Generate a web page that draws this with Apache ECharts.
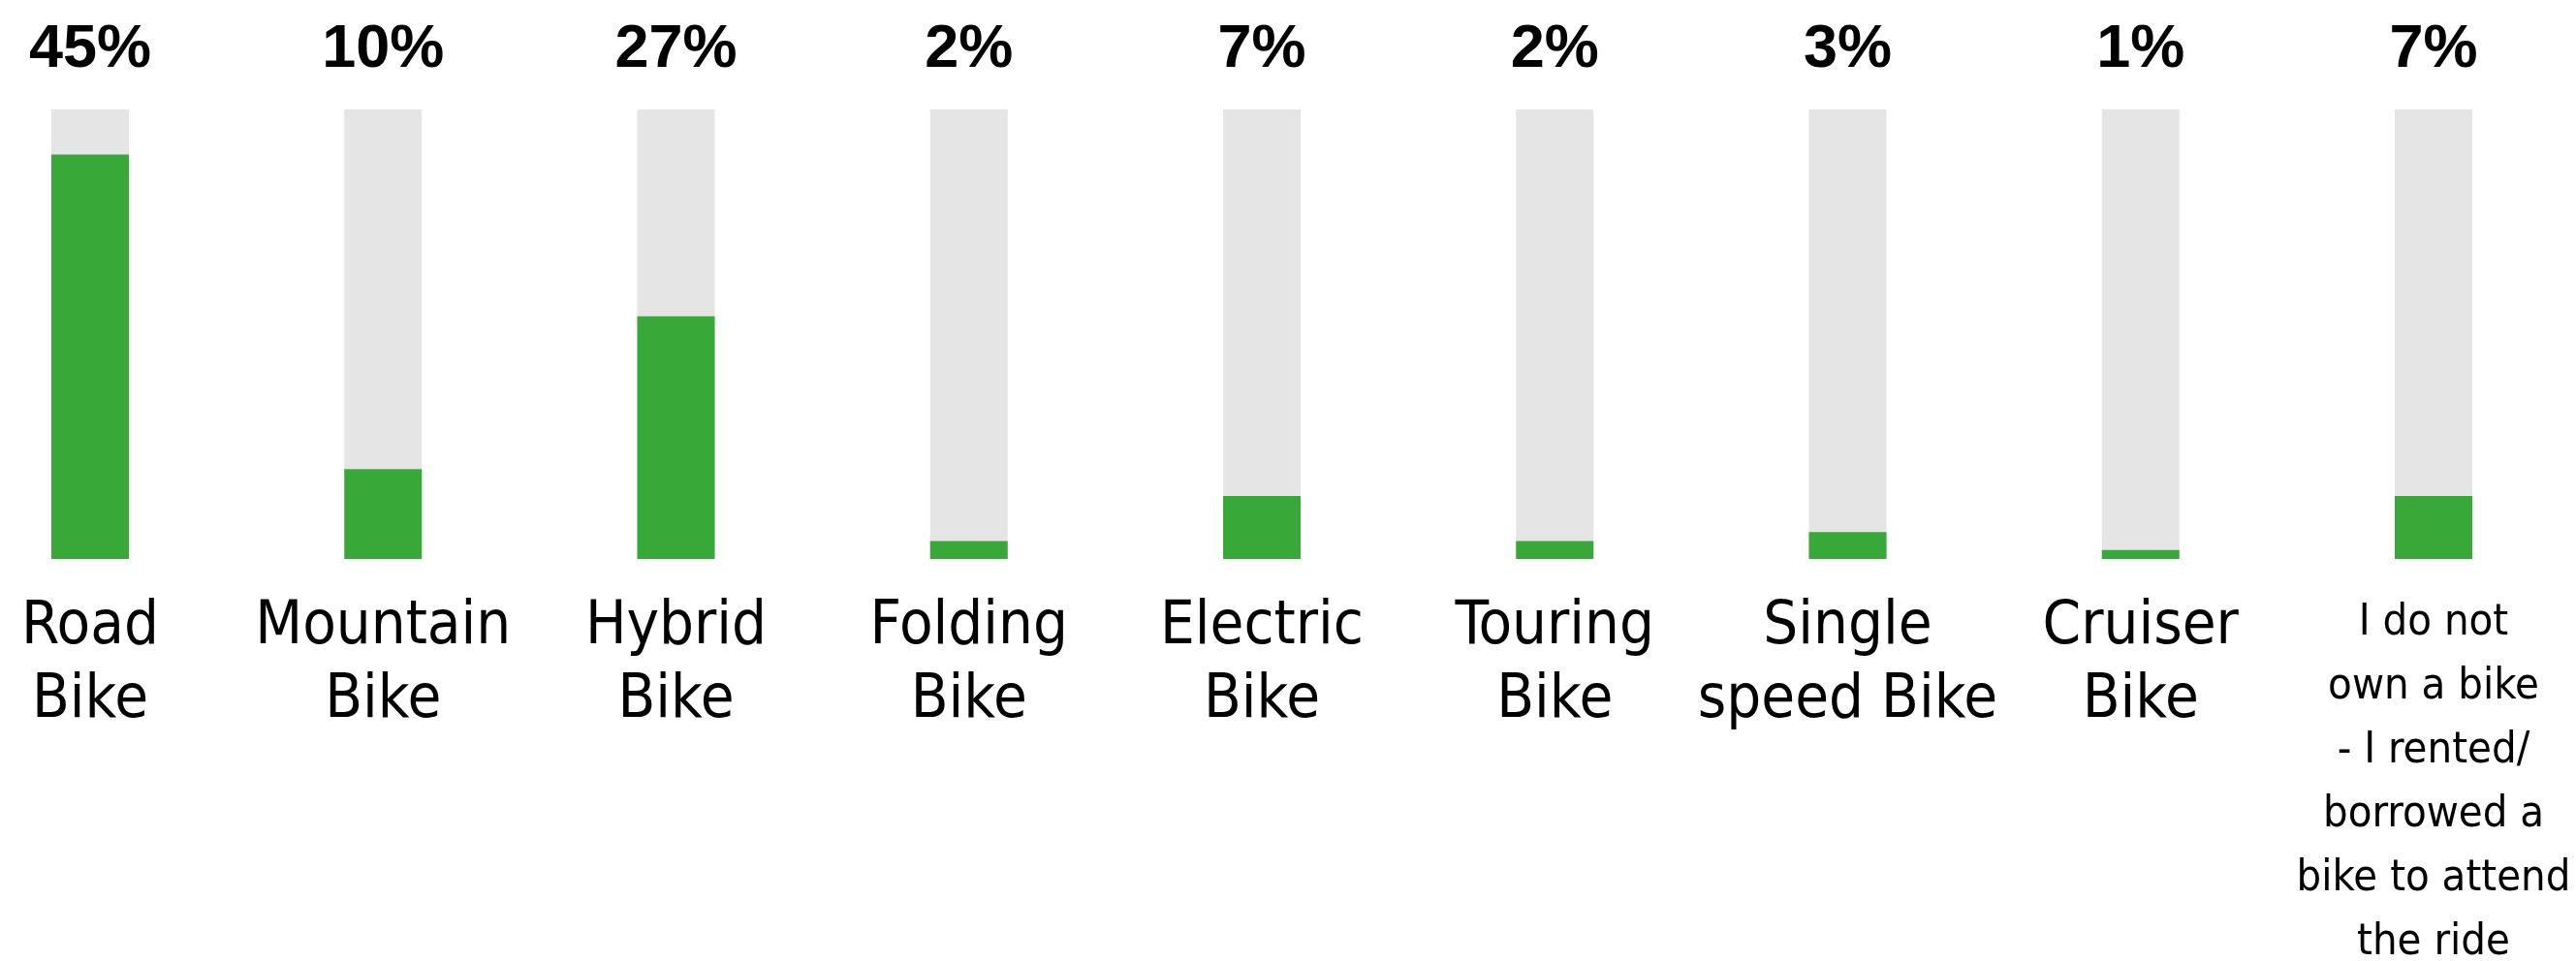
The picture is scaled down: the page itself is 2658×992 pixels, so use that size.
<!DOCTYPE html>
<html>
<head>
<meta charset="utf-8">
<script src="https://cdn.jsdelivr.net/npm/echarts@6/dist/echarts.min.js"></script>
<style>
  html, body { margin: 0; padding: 0; background: #fff; }
  #chart { width: 2658px; height: 992px; }
</style>
</head>
<body>
<div id="chart"></div>
<script>
// bike types (axis labels)
var categories = [
  'Road\nBike',
  'Mountain\nBike',
  'Hybrid\nBike',
  'Folding\nBike',
  'Electric\nBike',
  'Touring\nBike',
  'Single\nspeed Bike',
  'Cruiser\nBike',
  'I do not\nown a bike\n- I rented/\nborrowed a\nbike to attend\nthe ride'
]
// share of riders, %
var shares = [45, 10, 27, 2, 7, 2, 3, 1, 7]
var shareLabels = ['45%', '10%', '27%', '2%', '7%', '2%', '3%', '1%', '7%']
var scaleMax = 50

var labelFont = '"DejaVu Sans Condensed", "DejaVu Sans", sans-serif'

var chart = echarts.init(document.getElementById('chart'))

chart.setOption({
  animation: false,
  grid: {
    left: 93,
    right: 147,
    top: 113,
    bottom: 415,
    containLabel: false,
    outerBoundsMode: 'none'
  },
  xAxis: [{
    type: 'category',
    position: 'bottom',
    data: categories,
    boundaryGap: false,
    axisLine: { show: false },
    axisTick: { show: false },
    axisLabel: {
      interval: 0,
      margin: 33,
      color: '#000',
      fontFamily: labelFont,
      fontSize: 63,
      lineHeight: 76,
      align: 'center',
      formatter: function (val, idx) {
        // the last label is long, drawn smaller
        if (idx === categories.length - 1) {
          return '{s|' + val + '}'
        }
        return val
      },
      rich: {
        s: {
          fontSize: 45,
          lineHeight: 66,
          color: '#000',
          fontFamily: labelFont
        }
      }
    }
  }, {
    type: 'category',
    position: 'top',
    data: shareLabels,
    boundaryGap: false,
    axisLine: { show: false },
    axisTick: { show: false },
    axisLabel: {
      interval: 0,
      margin: 30,
      color: '#000',
      fontFamily: '"Liberation Sans", Arial, sans-serif',
      fontWeight: 'bold',
      fontSize: 63
    }
  }],
  yAxis: {
    type: 'value',
    min: 0,
    max: scaleMax,
    show: false,
    splitLine: { show: false }
  },
  series: [{
    type: 'bar',
    data: shares,
    barWidth: 80,
    showBackground: true,
    backgroundStyle: {
      color: '#e5e5e5'
    },
    itemStyle: {
      color: '#38a938'
    }
  }]
})
</script>
</body>
</html>
